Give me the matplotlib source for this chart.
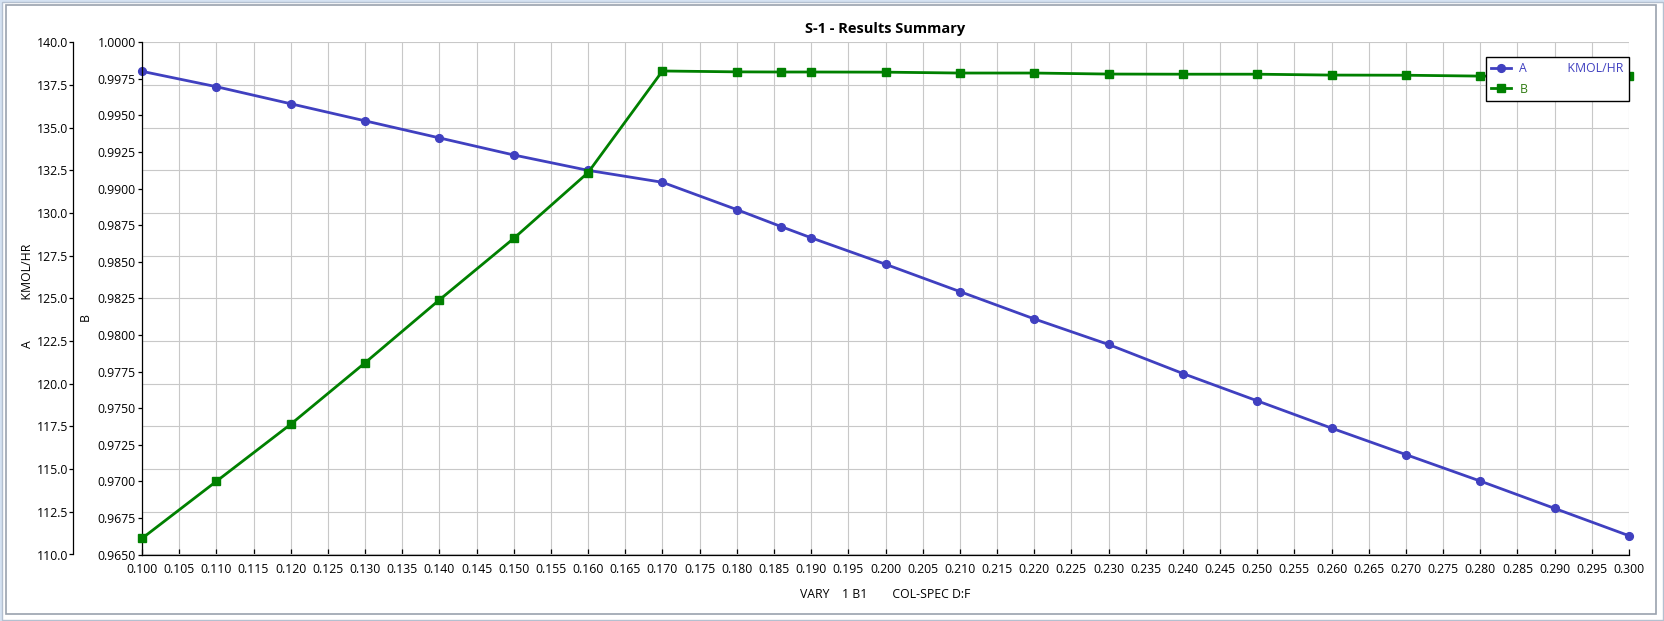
import numpy as np
import matplotlib.pyplot as plt
from matplotlib.lines import Line2D
from matplotlib.patches import Rectangle
from matplotlib.ticker import FixedLocator, FormatStrFormatter

plt.rcParams['font.family'] = ['Open Sans', 'DejaVu Sans']

# data
vary = [0.100, 0.110, 0.120, 0.130, 0.140, 0.150, 0.160, 0.170, 0.180, 0.186,
        0.190, 0.200, 0.210, 0.220, 0.230, 0.240, 0.250, 0.260, 0.270, 0.280,
        0.290, 0.300]
a_kmol = [138.3, 137.4, 136.4, 135.4, 134.4, 133.4, 132.5, 131.8, 130.2, 129.2,
          128.55, 127.0, 125.4, 123.8, 122.3, 120.6, 119.0, 117.4, 115.85, 114.3,
          112.7, 111.1]
b_frac = [0.9661, 0.9700, 0.9739, 0.9781, 0.9824, 0.9866, 0.9911, 0.99804, 0.99798, 0.99797,
          0.99797, 0.99796, 0.99790, 0.99790, 0.99783, 0.99782, 0.99782, 0.99776, 0.99775, 0.99769,
          0.99768, 0.99768]

x_ticks = np.arange(0.100, 0.3001, 0.005)
a_ticks = np.arange(110.0, 140.01, 2.5)
b_ticks = np.arange(0.9650, 1.00001, 0.0025)

blue = '#4040C0'
green = '#008000'
grid_col = '#C8C8C8'
fs = 8.8
gap = ' ' * 13

W, H = 1664, 621
fig = plt.figure(figsize=(W / 100, H / 100), dpi=100)
fig.patch.set_facecolor('#D5E2F2')
# window frame
fig.patches.append(Rectangle((1.5 / W, 1.5 / H), (W - 3) / W, (H - 3) / H, transform=fig.transFigure,
                             facecolor='white', edgecolor='#B4C0D0', lw=1.0, zorder=-2))
fig.patches.append(Rectangle((5.5 / W, (H - 613.5) / H), (1656 - 5.5) / W, (613.5 - 4.5) / H,
                             transform=fig.transFigure, facecolor='none', edgecolor='#9AA2AE', lw=1.2,
                             zorder=-1))

left, right, top, bottom = 142, 1629, 42.3, 554.5
ax_a = fig.add_axes([left / W, 1 - bottom / H, (right - left) / W, (bottom - top) / H])
ax_a.set_facecolor('none')

ax_a.plot(vary, a_kmol, color=blue, lw=2.0, marker='o', ms=5.6, clip_on=False, zorder=3)
ax_a.set_xlim(0.1, 0.3)
ax_a.set_ylim(110, 140)
ax_a.xaxis.set_major_locator(FixedLocator(x_ticks))
ax_a.xaxis.set_major_formatter(FormatStrFormatter('%.3f'))
ax_a.yaxis.set_major_locator(FixedLocator(a_ticks))
ax_a.yaxis.set_major_formatter(FormatStrFormatter('%.1f'))
ax_a.grid(True, color=grid_col, lw=0.8)
ax_a.set_axisbelow(True)
for s in ['top', 'right']:
    ax_a.spines[s].set_visible(False)
ax_a.spines['left'].set_position(('outward', (left - 72.7) * 0.72))
ax_a.spines['left'].set_linewidth(0.9)
ax_a.spines['bottom'].set_linewidth(0.9)
ax_a.tick_params(axis='x', direction='in', length=4, width=0.9, pad=6, labelsize=fs)
ax_a.tick_params(axis='y', direction='out', length=3.2, width=0.9, pad=0.2, labelsize=fs)
ax_a.set_ylabel('A' + gap + 'KMOL/HR', fontsize=fs)
ax_a.yaxis.set_label_coords(-0.0726, 0.505)
ax_a.set_xlabel('VARY    1 B1        COL-SPEC D:F', fontsize=fs, labelpad=8.6)
ax_a.set_title('S-1 - Results Summary', fontsize=10.5, fontweight='bold', pad=7)

ax_b = ax_a.twinx()
ax_b.plot(vary, b_frac, color=green, lw=2.0, marker='s', ms=5.8, clip_on=False, zorder=3)
ax_b.set_ylim(0.965, 1.0)
ax_b.yaxis.set_major_locator(FixedLocator(b_ticks))
ax_b.yaxis.set_major_formatter(FormatStrFormatter('%.4f'))
ax_b.yaxis.tick_left()
ax_b.yaxis.set_label_position('left')
for s in ['top', 'right', 'bottom']:
    ax_b.spines[s].set_visible(False)
ax_b.spines['left'].set_visible(True)
ax_b.spines['left'].set_linewidth(0.9)
ax_b.tick_params(axis='y', direction='out', length=3.2, width=0.9, pad=1.2, labelsize=fs)
ax_b.set_ylabel('B', fontsize=fs)
ax_b.yaxis.set_label_coords(-0.0336, 0.4635)

handles = [Line2D([], [], color=blue, lw=2.0, marker='o', ms=5.6),
           Line2D([], [], color=green, lw=2.0, marker='s', ms=5.8)]
leg = ax_b.legend(handles, ['A' + gap + 'KMOL/HR', 'B'], loc='upper right',
                  bbox_to_anchor=(1.0, 0.9713), borderaxespad=0, fancybox=False, framealpha=1,
                  edgecolor='black', fontsize=fs, handlelength=1.65, handletextpad=0.7,
                  labelspacing=0.62, borderpad=0.42)
leg.get_frame().set_linewidth(1.0)
leg.set_zorder(5)
leg.get_texts()[0].set_color(blue)
leg.get_texts()[1].set_color('#2E7A10')

fig.savefig('out.png', dpi=100, facecolor=fig.get_facecolor())
